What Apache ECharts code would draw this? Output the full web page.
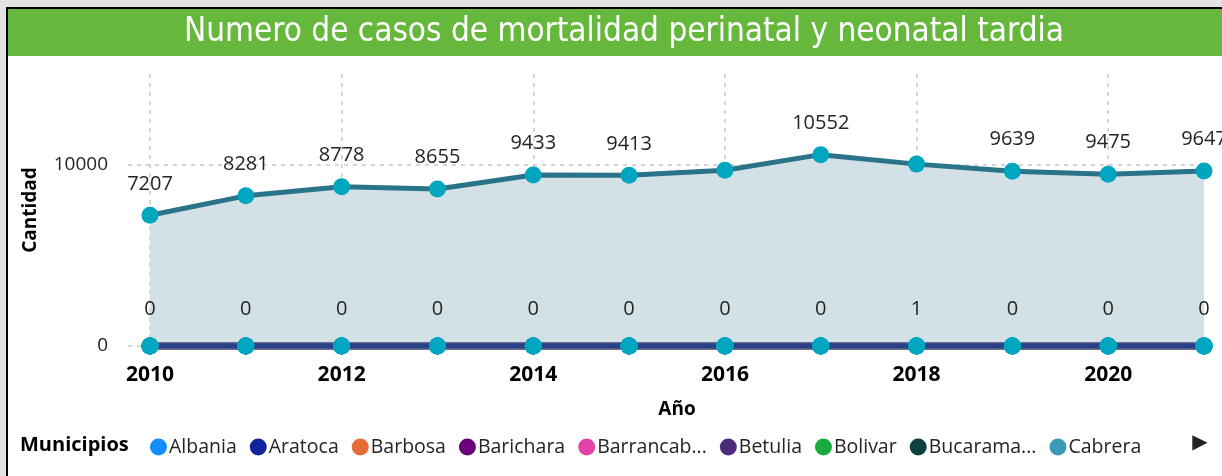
<!DOCTYPE html>
<html>
<head>
<meta charset="utf-8">
<script src="https://cdn.jsdelivr.net/npm/echarts@6/dist/echarts.min.js"></script>
<style>
  html, body { margin: 0; padding: 0; background: #fff; }
  #chart { width: 1222px; height: 476px; }
</style>
</head>
<body>
<div id="chart"></div>
<script>
// datos
var years = ['2010', '2011', '2012', '2013', '2014', '2015', '2016', '2017', '2018', '2019', '2020', '2021'];
var bucaramanga = [7207, 8281, 8778, 8655, 9433, 9413, 9690, 10552, 10030, 9639, 9475, 9647];
var albania     = [0, 0, 0, 0, 0, 0, 0, 0, 1, 0, 0, 0];
var aratoca     = [0, 0, 0, 0, 0, 0, 0, 0, 0, 0, 0, 0];
var barbosa     = [0, 0, 0, 0, 0, 0, 0, 0, 0, 0, 0, 0];
var barichara   = [0, 0, 0, 0, 0, 0, 0, 0, 0, 0, 0, 0];
var barranca    = [0, 0, 0, 0, 0, 0, 0, 0, 0, 0, 0, 0];
var betulia     = [0, 0, 0, 0, 0, 0, 0, 0, 0, 0, 0, 0];
var bolivar     = [0, 0, 0, 0, 0, 0, 0, 0, 0, 0, 0, 0];
var cabrera     = [0, 0, 0, 0, 0, 0, 0, 0, 0, 0, 0, 0];
var yTicks = [0, 10000];
var hiddenLabels = ['2016', '2018'];   // etiquetas que Power BI no muestra

var municipios = ['Albania', 'Aratoca', 'Barbosa', 'Barichara', 'Barrancabermeja', 'Betulia', 'Bolivar', 'Bucaramanga', 'Cabrera'];
var legendColors = ['#118DFF', '#12239E', '#E66C37', '#6B007B', '#E044A7', '#4B2C7A', '#1AAB40', '#0E4140', '#3A9AB8'];
var cortos = { 'Barrancabermeja': 'Barrancab...', 'Bucaramanga': 'Bucarama...' };

var font = '"Open Sans", "Noto Sans", sans-serif';
var marker = '#00A5C0';

function zeroSerie(name, data, color, withLabel) {
  return {
    name: name, type: 'line', data: data,
    symbol: 'circle', symbolSize: 17,
    itemStyle: { color: marker },
    lineStyle: { color: color, width: 5 },
    label: {
      show: !!withLabel, position: 'top', distance: 18,
      fontFamily: font, fontSize: 20, color: '#252423'
    },
    z: 3
  };
}

var topData = bucaramanga.map(function (v, i) {
  return { value: v, label: { show: hiddenLabels.indexOf(years[i]) < 0 } };
});

var series = [
  {
    name: 'Bucaramanga', type: 'line', data: topData,
    symbol: 'circle', symbolSize: 17,
    itemStyle: { color: marker },
    lineStyle: { color: '#2A7489', width: 5 },
    areaStyle: { color: '#D3E1E6', opacity: 1 },
    label: { show: true, position: 'top', distance: 13, fontFamily: font, fontSize: 20, color: '#252423' },
    z: 2
  },
  zeroSerie('Barbosa', barbosa, '#6C6F8C'),
  zeroSerie('Barichara', barichara, '#6C6F8C'),
  zeroSerie('Barrancabermeja', barranca, '#6C6F8C'),
  zeroSerie('Betulia', betulia, '#6C6F8C'),
  zeroSerie('Bolivar', bolivar, '#6C6F8C'),
  zeroSerie('Cabrera', cabrera, '#6C6F8C'),
  zeroSerie('Albania', albania, '#2A4088', true),
  zeroSerie('Aratoca', aratoca, '#2A4088')
];
// linea fina encima de la azul
series[1].lineStyle.width = 8;

var myChart = echarts.init(document.getElementById('chart'));
myChart.setOption({
  animation: false,
  title: [
    {
      text: 'Municipios', left: 15, top: 430,
      textStyle: { fontFamily: font, fontSize: 20, fontWeight: 'bold', color: '#000' }
    }
  ],
  graphic: [
    { type: 'rect', shape: { x: 0, y: 0, width: 1222, height: 7 }, style: { fill: '#E3E3E3' }, silent: true },
    { type: 'rect', shape: { x: 0, y: 0, width: 6, height: 476 }, style: { fill: '#E3E3E3' }, silent: true },
    { type: 'rect', shape: { x: 6, y: 7, width: 1216, height: 2 }, style: { fill: '#000' }, silent: true },
    { type: 'rect', shape: { x: 6, y: 7, width: 2, height: 469 }, style: { fill: '#000' }, silent: true },
    { type: 'rect', shape: { x: 8, y: 9, width: 1214, height: 47 }, style: { fill: '#66B83D' }, silent: true },
    {
      type: 'text', x: 624, y: 32,
      style: {
        text: 'Numero de casos de mortalidad perinatal y neonatal tardia',
        fill: '#fff', font: '33px "DejaVu Sans Condensed", "DejaVu Sans", sans-serif',
        textAlign: 'center', textVerticalAlign: 'middle'
      },
      silent: true
    },
    {
      type: 'text', x: 1200, y: 443,
      style: { text: '▶', fill: '#252423', font: '20px "DejaVu Sans", sans-serif', textAlign: 'center', textVerticalAlign: 'middle' },
      silent: true
    }
  ],
  legend: {
    left: 145, top: 432,
    itemWidth: 17, itemHeight: 17, itemGap: 13,
    icon: 'circle',
    data: municipios.map(function (m, i) {
      return { name: m, itemStyle: { color: legendColors[i] } };
    }),
    formatter: function (n) { return cortos[n] || n; },
    textStyle: { fontFamily: font, fontSize: 19.5, color: '#252423', padding: [0, 0, 0, -3] },
    selectedMode: false
  },
  grid: [
    { left: 150, right: 18, top: 74, bottom: 130 },
    { left: 128, right: 18, top: 74, bottom: 130 }
  ],
  xAxis: [
    {
      type: 'category', data: years, boundaryGap: false, gridIndex: 0,
      name: 'Año', nameLocation: 'middle', nameGap: 54,
      nameTextStyle: { fontFamily: font, fontSize: 19, fontWeight: 'bold', color: '#000' },
      axisLine: { show: false }, axisTick: { show: false },
      axisLabel: { interval: 1, margin: 19, fontFamily: font, fontSize: 21, fontWeight: 'bold', color: '#000' },
      splitLine: { show: true, interval: 1, lineStyle: { color: '#C8C8C8', width: 1.5, type: [4, 5] } }
    },
    { type: 'value', gridIndex: 1, show: false, min: 0, max: 1 }
  ],
  yAxis: [
    {
      type: 'value', gridIndex: 0, min: yTicks[0], max: 15000, interval: yTicks[1] - yTicks[0],
      name: 'Cantidad', nameLocation: 'middle', nameGap: 110, nameRotate: 90,
      nameTextStyle: { fontFamily: font, fontSize: 19, fontWeight: 'bold', color: '#000' },
      axisLine: { show: false }, axisTick: { show: false },
      axisLabel: {
        margin: 42, showMaxLabel: false, fontFamily: font, fontSize: 19, color: '#252423',
        formatter: function (v) { return String(v); }
      },
      splitLine: { show: false }
    },
    {
      type: 'value', gridIndex: 1, min: yTicks[0], max: 15000, interval: yTicks[1] - yTicks[0],
      axisLine: { show: false }, axisTick: { show: false }, axisLabel: { show: false },
      splitLine: { show: true, lineStyle: { color: ['#C8C8C8', '#C8C8C8', 'rgba(0,0,0,0)'], width: 1.5, type: [4, 5] } }
    }
  ],
  series: series
});
</script>
</body>
</html>
